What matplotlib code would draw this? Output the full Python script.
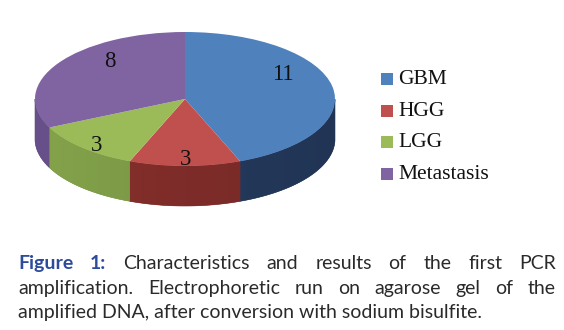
import matplotlib
matplotlib.use('Agg')
import matplotlib.pyplot as plt
import numpy as np
from matplotlib.patches import Polygon, Rectangle
from matplotlib.colors import to_rgb

# ---------------- data ----------------
categories = ['GBM', 'HGG', 'LGG', 'Metastasis']
values = [11, 3, 3, 8]
value_labels = ['11', '3', '3', '8']
top_colors = ['#4f81bd', '#c0504d', '#9bbb59', '#8064a2']
side_colors = ['#24395c', '#7e2c29', '#7a9745', '#604b80']

caption_bold = ['Figure', '1:']
caption_line1 = ['Characteristics', 'and', 'results', 'of', 'the', 'first', 'PCR']
caption_line2 = ['amplification.', 'Electrophoretic', 'run', 'on', 'agarose', 'gel', 'of', 'the']
caption_line3 = 'amplified DNA, after conversion with sodium bisulfite.'

# ---------------- layout (pixels) ----------------
W, H = 564, 330
fig = plt.figure(figsize=(W / 100, H / 100), dpi=100)

cx, cy = 185, H - 99     # pie centre
rx, ry = 150, 67         # ellipse radii
depth = 40 / ry          # side wall thickness in data units
xlo, xhi = -1.12, 1.12
ylo, yhi = -1.9, 1.25
ax = fig.add_axes([(cx + xlo * rx) / W, (cy + ylo * ry) / H,
                   (xhi - xlo) * rx / W, (yhi - ylo) * ry / H])

wedges, _ = ax.pie(values, colors=top_colors, startangle=90, counterclock=False,
                   radius=1, wedgeprops=dict(linewidth=0, zorder=3))
ax.set_aspect('auto')
ax.set_xlim(xlo, xhi)
ax.set_ylim(ylo, yhi)
ax.axis('off')


def shade(c, f):
    r, g, b = to_rgb(c)
    return np.array([min(r * f, 1), min(g * f, 1), min(b * f, 1)])


# side walls (front half only), filled with a horizontal gradient
for w, sc in zip(wedges, side_colors):
    t = np.radians(np.linspace(w.theta1, w.theta2, 600))
    m = np.sin(t) <= 1e-9
    if m.sum() < 2:
        continue
    tt = t[m]
    xs, ys = np.cos(tt), np.sin(tt)
    poly = np.column_stack([np.r_[xs, xs[::-1]], np.r_[ys, ys[::-1] - depth]])
    patch = Polygon(poly, closed=True, facecolor=shade(sc, 1.0),
                    edgecolor=shade(sc, 0.95), linewidth=0.4, zorder=1)
    ax.add_patch(patch)
    x0, x1 = xs.min(), xs.max()
    gx = np.linspace(x0, x1, 200)
    f = 1.08 - 0.16 * (gx + 1) / 2
    img = np.array([shade(sc, fi) for fi in f])[None, :, :]
    im = ax.imshow(img, extent=(x0, x1, ys.min() - depth, ys.max()),
                   aspect='auto', zorder=1.5, interpolation='bilinear')
    im.set_clip_path(patch)

ax.set_xlim(xlo, xhi)
ax.set_ylim(ylo, yhi)

# value labels
label_pos = [(0.653, 0.36), (0.007, -0.90), (-0.587, -0.70), (-0.50, 0.56)]
for (lx, ly), lab in zip(label_pos, value_labels):
    ax.text(lx, ly, lab, ha='center', va='center', fontsize=16.5,
            family='Liberation Serif', color='#111111', zorder=5)

# legend (manual)
leg_x = 381
leg_base = 84
leg_step = 31.7
for i, (cat, col) in enumerate(zip(categories, top_colors)):
    yb = H - (leg_base + i * leg_step)
    fig.patches.append(Rectangle(((leg_x) / W, (yb - 1) / H), 12 / W, 12 / H,
                                 transform=fig.transFigure, facecolor=col,
                                 edgecolor='none'))
    fig.text((leg_x + 17) / W, yb / H, cat, ha='left', va='baseline',
             fontsize=15.5, family='Liberation Serif', color='#111111')

# caption with justified lines
cap_font = 'Lato'
cap_color = '#2a2a2a'
blue = '#2d4b9c'
L, R = 18, 556
baselines = [269, 294, 318]

fig.canvas.draw()
renderer = fig.canvas.get_renderer()

# fit font size to last line width
probe = fig.text(0, 0, caption_line3, fontsize=10, family=cap_font)
wp = probe.get_window_extent(renderer).width
probe.remove()
fs = 10 * 463 / wp


def justify(words, styles, yb):
    arts = []
    for wd, (wt, col) in zip(words, styles):
        arts.append(fig.text(0, yb / H, wd, fontsize=fs, family=cap_font,
                             fontweight=wt, color=col, ha='left', va='baseline'))
    widths = [a.get_window_extent(renderer).width for a in arts]
    gap = (R - L - sum(widths)) / (len(arts) - 1)
    x = L
    for a, wdt in zip(arts, widths):
        a.set_x(x / W)
        x += wdt + gap


w1 = caption_bold + caption_line1
s1 = [('bold', blue)] * len(caption_bold) + [('normal', cap_color)] * len(caption_line1)
justify(w1, s1, H - baselines[0])
justify(caption_line2, [('normal', cap_color)] * len(caption_line2), H - baselines[1])
fig.text(L / W, (H - baselines[2]) / H, caption_line3, fontsize=fs, family=cap_font,
         color=cap_color, ha='left', va='baseline')

fig.savefig('out.png', dpi=100)
